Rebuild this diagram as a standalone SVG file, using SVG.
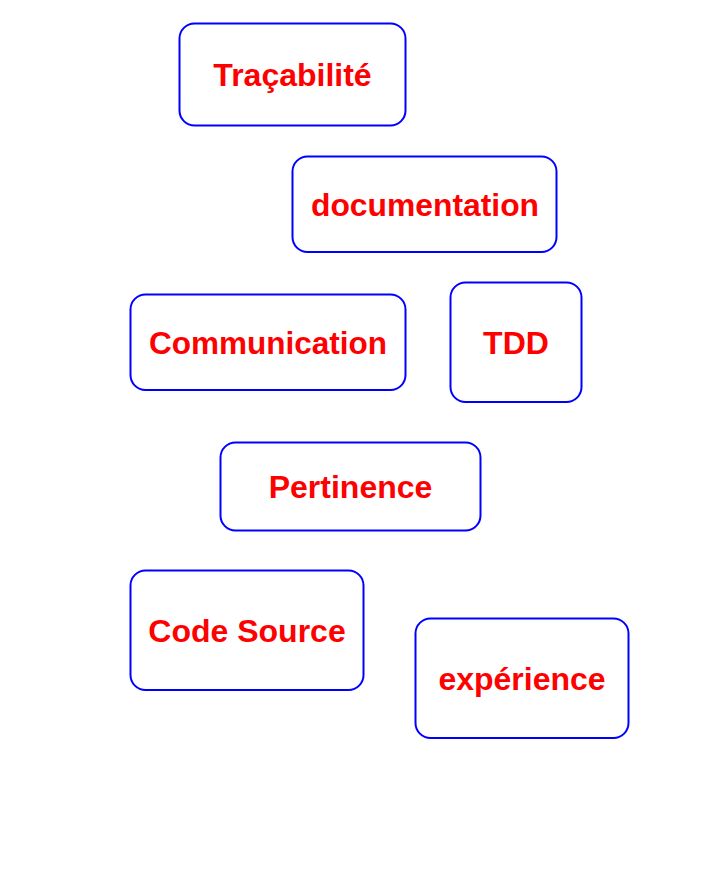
<svg xmlns="http://www.w3.org/2000/svg" width="728" height="884" viewBox="0 0 728 884">
<style>
.box{fill:#ffffff;stroke:#0000ff;stroke-width:2}
.lbl{font-family:"Liberation Sans",Arial,sans-serif;font-weight:bold;font-size:32px;fill:#ff0000;text-anchor:middle}
</style>
<rect width="728" height="884" fill="#ffffff"/>
<g id="connectors"></g>
<g id="tracabilite"><rect class="box" x="179.5" y="23.5" width="226" height="102" rx="15"/><text class="lbl" x="292.5" y="86">Traçabilité</text></g>
<g id="documentation"><rect class="box" x="292.5" y="156.5" width="264" height="95.5" rx="15"/><text class="lbl" x="425" y="215.5" textLength="228" lengthAdjust="spacingAndGlyphs">documentation</text></g>
<g id="communication"><rect class="box" x="130.5" y="294.5" width="275" height="95.5" rx="15"/><text class="lbl" x="268" y="354" textLength="238" lengthAdjust="spacingAndGlyphs">Communication</text></g>
<g id="tdd"><rect class="box" x="450.5" y="282.5" width="131" height="119.5" rx="15"/><text class="lbl" x="516" y="354">TDD</text></g>
<g id="pertinence"><rect class="box" x="220.5" y="442.5" width="260" height="88" rx="15"/><text class="lbl" x="350.5" y="498.3">Pertinence</text></g>
<g id="code-source"><rect class="box" x="130.5" y="570.5" width="233" height="119.5" rx="15"/><text class="lbl" x="247" y="641.7">Code Source</text></g>
<g id="experience"><rect class="box" x="415.5" y="618.5" width="213" height="119.5" rx="15"/><text class="lbl" x="522" y="689.5">expérience</text></g>
</svg>
